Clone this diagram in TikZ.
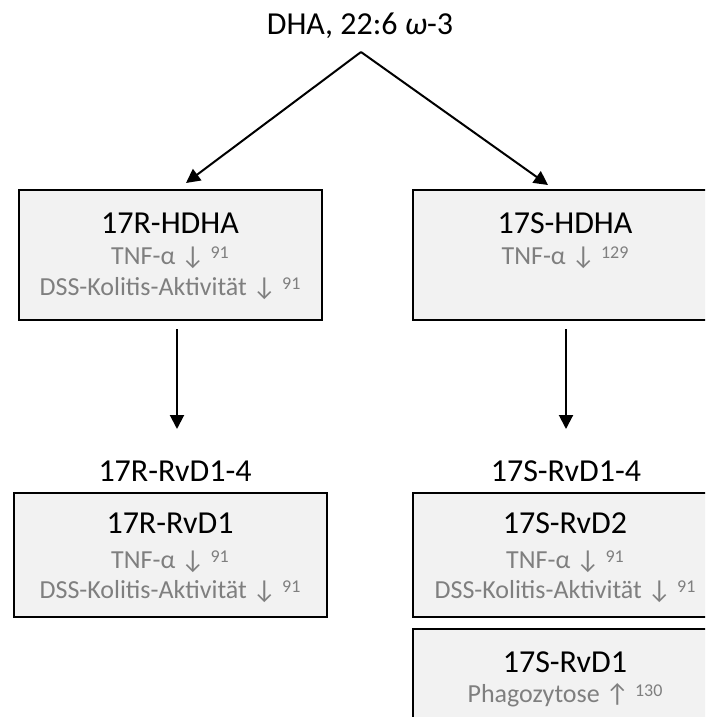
\documentclass[tikz,border=0pt]{standalone}
\usepackage{fontspec}
\setmainfont{Carlito}
\usetikzlibrary{arrows.meta}
\definecolor{boxfill}{HTML}{F2F2F2}
\definecolor{graytext}{HTML}{7F7F7F}
\newcommand\refsup[1]{\raisebox{5.5pt}{\fontsize{18}{18}\selectfont #1}}
\begin{document}
\begin{tikzpicture}[x=1pt,y=-1pt,
  box/.style={draw=black, line width=2.5pt, fill=boxfill, rectangle, inner sep=0pt},
  title/.style={anchor=base, font=\fontsize{32}{32}\selectfont, inner sep=0pt, text depth=0pt},
  graylbl/.style={anchor=base, font=\fontsize{26}{26}\selectfont, text=graytext, inner sep=0pt},
  arr/.style={line width=2pt, -{Triangle[length=14pt,width=14pt]}}]
\useasboundingbox (0,0) rectangle (705,717);
\clip (0,0) rectangle (705,717);

% boxes
\node[box, minimum width=303pt, minimum height=130pt] (hdhaR) at (170.5,255) {};
\node[box, minimum width=304pt, minimum height=130pt] (hdhaS) at (565,255) {};
\node[box, minimum width=313pt, minimum height=124pt] (rvdR) at (170.5,555) {};
\node[box, minimum width=304pt, minimum height=124pt] (rvdtwoS) at (565,555) {};
\node[box, minimum width=304pt, minimum height=142pt] (rvdoneS) at (565,700) {};

% top label
\node[title] (dha) at (360,35) {DHA, 22:6 \textit{ω}-3};

% texts in upper boxes
\node[title] (tR1) at (170,233) {17R-HDHA};
\node[graylbl] (gR1) at (170,264) {TNF-α ↓ \refsup{91}};
\node[graylbl] (gR2) at (170,295) {DSS-Kolitis-Aktivität ↓ \refsup{91}};
\node[title] (tS1) at (565,233) {17S-HDHA};
\node[graylbl] (gS1) at (565,264) {TNF-α ↓ \refsup{129}};

% group labels
\node[title] (grpR) at (175,481) {17R-RvD1-4};
\node[title] (grpS) at (566,481) {17S-RvD1-4};

% lower boxes texts
\node[title] (tR2) at (170,533) {17R-RvD1};
\node[graylbl] (gR3) at (170,568) {TNF-α ↓ \refsup{91}};
\node[graylbl] (gR4) at (170,598) {DSS-Kolitis-Aktivität ↓ \refsup{91}};
\node[title] (tS2) at (565,533) {17S-RvD2};
\node[graylbl] (gS2) at (565,568) {TNF-α ↓ \refsup{91}};
\node[graylbl] (gS3) at (565,598) {DSS-Kolitis-Aktivität ↓ \refsup{91}};
\node[title] (tS3) at (565,672) {17S-RvD1};
\node[graylbl] (gS4) at (565,702) {Phagozytose ↑ \refsup{130}};

% connectors
\coordinate (apex) at (361,52);
\coordinate (tipR) at (186,183);
\coordinate (tipS) at (548,185);
\coordinate (dR0) at (177,329);
\coordinate (dR1) at (177,429);
\coordinate (dS0) at (566,329);
\coordinate (dS1) at (566,429);
\draw[arr] (apex) -- (tipR);
\draw[arr] (apex) -- (tipS);
\draw[arr] (dR0) -- (dR1);
\draw[arr] (dS0) -- (dS1);
\end{tikzpicture}
\end{document}
